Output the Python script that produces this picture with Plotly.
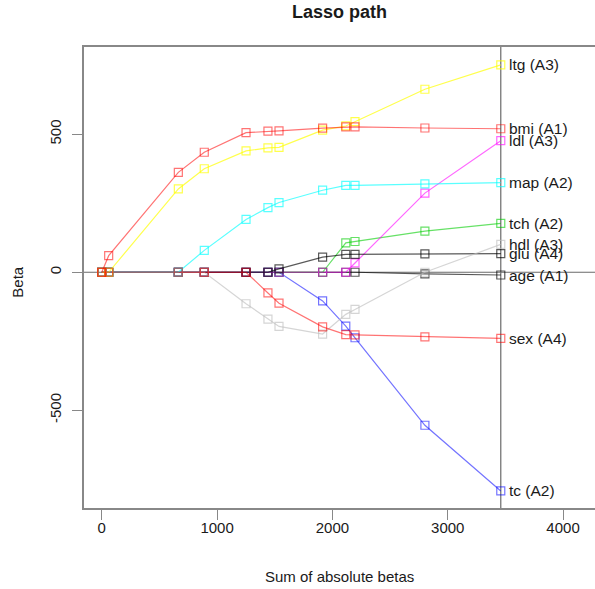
import plotly.graph_objects as go

# Sum of absolute betas at each LARS/lasso step
sum_abs = [0, 60, 664, 889, 1251, 1441, 1537, 1915, 2116, 2196, 2802, 3460]

age = [0, 0, 0, 0, 0, 0, 0, 0, 0, 0, -5.72, -10.01]
sex = [0, 0, 0, 0, 0, -74.92, -111.98, -197.76, -226.13, -227.18, -234.40, -239.82]
bmi = [0, 60.12, 361.89, 434.76, 505.66, 511.35, 512.04, 522.26, 526.89, 526.39, 522.65, 519.84]
map_ = [0, 0, 0, 79.24, 191.27, 234.15, 252.53, 297.16, 314.39, 314.95, 320.34, 324.39]
tc = [0, 0, 0, 0, 0, 0, 0, -103.95, -195.11, -237.34, -554.27, -792.18]
ldl = [0, 0, 0, 0, 0, 0, 0, 0, 0, 33.63, 286.74, 476.75]
hdl = [0, 0, 0, 0, -114.10, -169.71, -196.05, -223.93, -152.48, -134.60, 0, 101.04]
tch = [0, 0, 0, 0, 0, 0, 0, 0, 106.34, 111.38, 148.90, 177.06]
ltg = [0, 0, 301.78, 374.92, 439.67, 450.67, 452.39, 514.75, 529.92, 545.48, 663.03, 751.28]
glu = [0, 0, 0, 0, 0, 0, 12.08, 54.77, 64.49, 64.61, 66.33, 67.63]

labels = {
    "age": "age (A1)", "sex": "sex (A4)", "bmi": "bmi (A1)", "map": "map (A2)",
    "tc": "tc (A2)", "ldl": "ldl (A3)", "hdl": "hdl (A3)", "tch": "tch (A2)",
    "ltg": "ltg (A3)", "glu": "glu (A4)",
}

x_ticks = [0, 1000, 2000, 3000, 4000]
y_ticks = [-500, 0, 500]

# draw order (bottom -> top)
series = [
    ("age", age, "rgba(0,0,0,0.65)"),
    ("tc", tc, "rgba(0,0,255,0.55)"),
    ("tch", tch, "rgba(0,205,0,0.6)"),
    ("ldl", ldl, "rgba(255,0,255,0.6)"),
    ("glu", glu, "rgba(0,0,0,0.65)"),
    ("hdl", hdl, "rgba(190,190,190,0.65)"),
    ("map", map_, "rgba(0,255,255,0.65)"),
    ("ltg", ltg, "rgba(255,255,0,0.7)"),
    ("bmi", bmi, "rgba(255,0,0,0.55)"),
    ("sex", sex, "rgba(255,0,0,0.55)"),
]

fig = go.Figure()
font_family = "Liberation Sans, Arial, sans-serif"

for name, vals, col in series:
    fig.add_trace(go.Scatter(
        x=sum_abs, y=vals, mode="lines+markers",
        line=dict(color=col, width=1.2),
        marker=dict(symbol="square-open", size=8, color=col, line=dict(width=1.2, color=col)),
        showlegend=False, hoverinfo="skip",
    ))
    fig.add_annotation(
        x=sum_abs[-1], y=vals[-1], text=labels[name], showarrow=False,
        xanchor="left", yanchor="middle", xshift=6,
        font=dict(family=font_family, size=15.5, color="#1a1a1a"),
    )

fig.add_hline(y=0, line=dict(color="#6a6a6a", width=1.2), layer="below")
fig.add_vline(x=sum_abs[-1], line=dict(color="#6a6a6a", width=1.2), layer="below")

W, H = 595, 589
fig.update_layout(
    width=W, height=H,
    margin=dict(l=83.5, r=0, t=47, b=81),
    plot_bgcolor="white", paper_bgcolor="white",
    font=dict(family=font_family, size=15, color="#1a1a1a"),
    title=dict(text="<b>Lasso path</b>", x=0.5, xref="paper", y=1 - 12 / H, yref="container",
               xanchor="center", yanchor="middle", font=dict(size=18, family=font_family)),
    xaxis=dict(range=[-154, 4277], tickvals=x_ticks, ticktext=[str(v) for v in x_ticks],
               showgrid=False, zeroline=False, showline=True, mirror=True, automargin=False,
               linecolor="#888888", linewidth=1.5, ticks="outside", ticklen=10,
               tickcolor="#888888", tickwidth=1.2, ticklabelstandoff=-5),
    yaxis=dict(range=[-854, 816], tickvals=y_ticks, ticktext=[str(v) for v in y_ticks],
               tickangle=-90, showgrid=False, zeroline=False, showline=True, mirror=False,
               automargin=False,
               linecolor="#888888", linewidth=1.5, ticks="outside", ticklen=10,
               tickcolor="#888888", tickwidth=1.2, ticklabelstandoff=5),
)

fig.add_annotation(text="Sum of absolute betas", xref="paper", yref="paper",
                   x=0.5, y=(508 - 576) / 461, showarrow=False,
                   xanchor="center", yanchor="middle", font=dict(size=15, family=font_family))
fig.add_annotation(text="Beta", xref="paper", yref="paper",
                   x=(17 - 83.5) / 511.5, y=0.49, showarrow=False, textangle=-90,
                   xanchor="center", yanchor="middle", font=dict(size=15, family=font_family))

# remove the default page margin so the figure sits at the window's top-left corner
fig.write_html("out.html", config={"displayModeBar": False},
               post_script="document.body.style.margin='0';document.body.style.overflow='hidden';")
